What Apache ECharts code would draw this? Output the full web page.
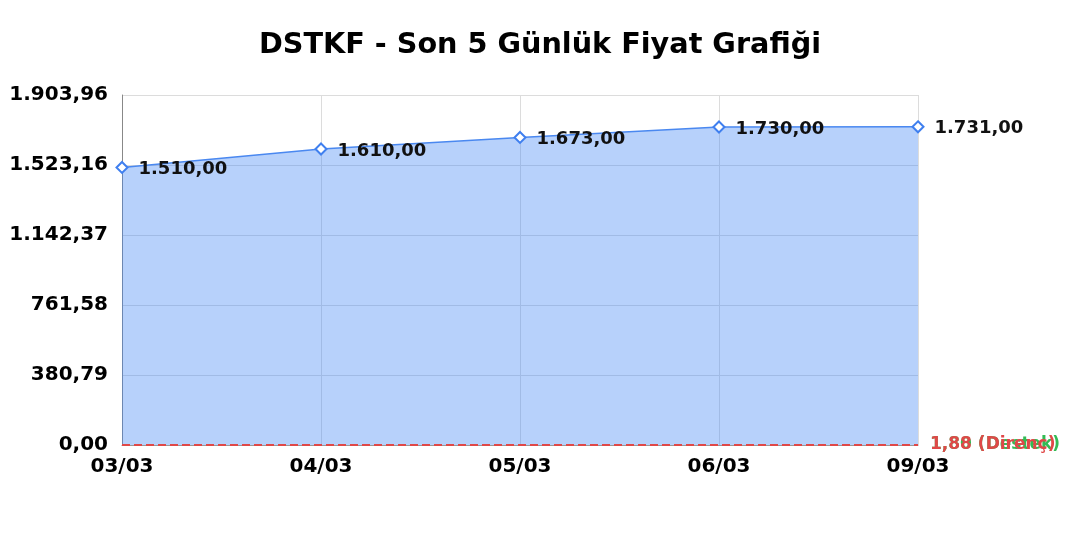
<!DOCTYPE html>
<html><head><meta charset="utf-8">
<script src="https://cdn.jsdelivr.net/npm/echarts@6/dist/echarts.min.js"></script>
<style>html,body{margin:0;padding:0;background:#fff}#c{width:1080px;height:540px}</style>
</head><body><div id="c"></div>
<script>
const titleText = 'DSTKF - Son 5 Günlük Fiyat Grafiği';
const categories = ['03/03','04/03','05/03','06/03','09/03'];
const prices = [1510.00, 1610.00, 1673.00, 1730.00, 1731.00];
const supportLevel = 1.80;
const resistanceLevel = 1.88;
const yMin = 0;
const yMax = 1903.96;
const yInterval = 380.792;

function trFmt(v){
  const t = Math.floor(v*100 + 1e-6)/100;
  let s = t.toFixed(2);
  let [ip, dp] = s.split('.');
  ip = ip.replace(/\B(?=(\d{3})+(?!\d))/g, '.');
  return ip + ',' + dp;
}
const font = 'DejaVu Sans';
const chart = echarts.init(document.getElementById('c'), null, {renderer:'canvas'});
chart.setOption({
  animation:false,
  backgroundColor:'#ffffff',
  title:{text:titleText,left:'center',top:26,textStyle:{fontFamily:font,fontSize:28.7,fontWeight:'bold',color:'#000'}},
  grid:{left:122,right:162,top:95,bottom:95,containLabel:false},
  xAxis:{type:'category',data:categories,boundaryGap:false,
    axisLine:{show:true,lineStyle:{color:'#999'}},axisTick:{show:false},
    axisLabel:{fontFamily:font,fontSize:20,fontWeight:'bold',color:'#000',margin:12},
    splitLine:{show:true,lineStyle:{color:'#dcdcdc'}}},
  yAxis:{type:'value',min:yMin,max:yMax,interval:yInterval,
    axisLine:{show:true,lineStyle:{color:'#888'}},axisTick:{show:false},
    axisLabel:{fontFamily:font,fontSize:20,fontWeight:'bold',color:'#000',margin:14,formatter:trFmt},
    splitLine:{show:true,lineStyle:{color:'#dcdcdc'}}},
  series:[{
    type:'line',data:prices,
    symbol:'diamond',symbolSize:11,
    itemStyle:{color:'#ffffff',borderColor:'#3f7fef',borderWidth:2},
    lineStyle:{color:'#4a88f0',width:1.5},
    areaStyle:{color:'rgba(66,133,244,0.38)',opacity:1},
    label:{show:true,position:'right',distance:10,offset:[0,2],fontFamily:font,fontSize:18,fontWeight:'bold',color:'#111',formatter:p=>trFmt(p.value)},
    markLine:{symbol:'none',silent:true,animation:false,
      data:[
        {yAxis:supportLevel,lineStyle:{color:'#33bb55',type:'dashed',width:2},
          label:{show:true,position:'end',distance:12,padding:[5,0,0,0],formatter:trFmt(supportLevel)+' (Destek)',fontFamily:font,fontSize:17,fontWeight:'bold',color:'#33bb55'}},
        {yAxis:resistanceLevel,lineStyle:{color:'#e04848',type:'dashed',width:2},
          label:{show:true,position:'end',distance:12,padding:[5,0,0,0],formatter:trFmt(resistanceLevel)+' (Direnç)',fontFamily:font,fontSize:17,fontWeight:'bold',color:'#e04848'}}
      ]}
  }]
});
</script></body></html>
